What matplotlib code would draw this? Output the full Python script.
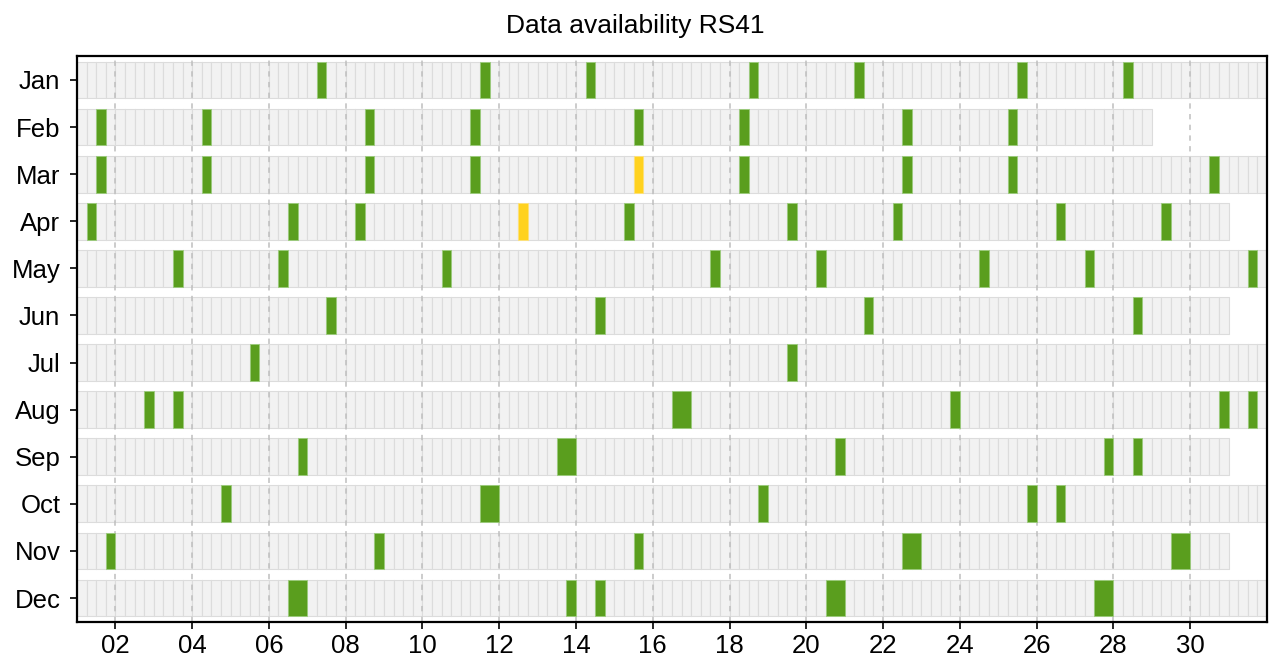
import numpy as np
import matplotlib.pyplot as plt

plt.rcParams['font.family'] = ['Liberation Sans', 'DejaVu Sans']

months = ['Jan', 'Feb', 'Mar', 'Apr', 'May', 'Jun', 'Jul', 'Aug', 'Sep', 'Oct', 'Nov', 'Dec']
days_in_month = [31, 28, 31, 30, 31, 30, 31, 31, 30, 31, 30, 31]

# launches with data, (day, hour UTC), 6-hourly slots
jan = [(7, 6), (11, 12), (14, 6), (18, 12), (21, 6), (25, 12), (28, 6)]
feb = [(1, 12), (4, 6), (8, 12), (11, 6), (15, 12), (18, 6), (22, 12), (25, 6)]
mar = [(1, 12), (4, 6), (8, 12), (11, 6), (18, 6), (22, 12), (25, 6), (30, 12)]
apr = [(1, 6), (6, 12), (8, 6), (15, 6), (19, 12), (22, 6), (26, 12), (29, 6)]
may = [(3, 12), (6, 6), (10, 12), (17, 12), (20, 6), (24, 12), (27, 6), (31, 12)]
jun = [(7, 12), (14, 12), (21, 12), (28, 12)]
jul = [(5, 12), (19, 12)]
aug = [(2, 18), (3, 12), (16, 12), (16, 18), (23, 18), (30, 18), (31, 12)]
sep = [(6, 18), (13, 12), (13, 18), (20, 18), (27, 18), (28, 12)]
octo = [(4, 18), (11, 12), (11, 18), (18, 18), (25, 18), (26, 12)]
nov = [(1, 18), (8, 18), (15, 12), (22, 12), (22, 18), (29, 12), (29, 18)]
dec = [(6, 12), (6, 18), (13, 18), (14, 12), (20, 12), (20, 18), (27, 12), (27, 18)]
complete = [jan, feb, mar, apr, may, jun, jul, aug, sep, octo, nov, dec]

# incomplete profiles
partial = {2: [(15, 12)], 3: [(12, 12)]}

slot = 0.25
h = 0.78


def to_ranges(slots):
    # join neighbouring 6h slots into one bar
    xs = sorted(d + hr / 24 for d, hr in slots)
    out = []
    for x in xs:
        if out and abs(out[-1][0] + out[-1][1] - x) < 1e-6:
            out[-1] = (out[-1][0], out[-1][1] + slot)
        else:
            out.append((x, slot))
    return out


fig = plt.figure(figsize=(12.7, 6.59), dpi=100)
ax = fig.add_axes([0.0606, 0.0561, 0.937, 0.859])

for i, nd in enumerate(days_in_month):
    cells = [(1 + k * slot, slot) for k in range(nd * 4)]
    ax.broken_barh(cells, (i - h / 2, h), facecolors='#f2f2f2',
                   edgecolors='#dcdcdc', linewidth=0.8, zorder=1)
    ax.broken_barh(to_ranges(complete[i]), (i - h / 2, h), facecolors='#5a9e1e',
                   edgecolors='#9ccc7c', linewidth=0.6, zorder=3)
    if i in partial:
        ax.broken_barh(to_ranges(partial[i]), (i - h / 2, h), facecolors='#ffd21f',
                       edgecolors='#ffe27a', linewidth=0.6, zorder=3)

for d in range(2, 32, 2):
    ax.axvline(d, color='#bfbfbf', linestyle=(0, (3.5, 3.5)), linewidth=1.1, zorder=2)

ax.set_xlim(1, 32)
ax.set_ylim(11.51, -0.51)
ax.set_xticks(range(2, 32, 2))
ax.set_xticklabels(['%02d' % d for d in range(2, 32, 2)])
ax.set_yticks(range(12))
ax.set_yticklabels(months)
ax.tick_params(labelsize=18.5, length=5, width=1.2, colors='black')
ax.tick_params(axis='y', pad=7)
for s in ax.spines.values():
    s.set_linewidth(1.6)
    s.set_color('black')

fig.suptitle('Data availability RS41', x=0.5, y=1 - 33 / 659, va='baseline', fontsize=19)

fig.savefig('out.png', dpi=100)
